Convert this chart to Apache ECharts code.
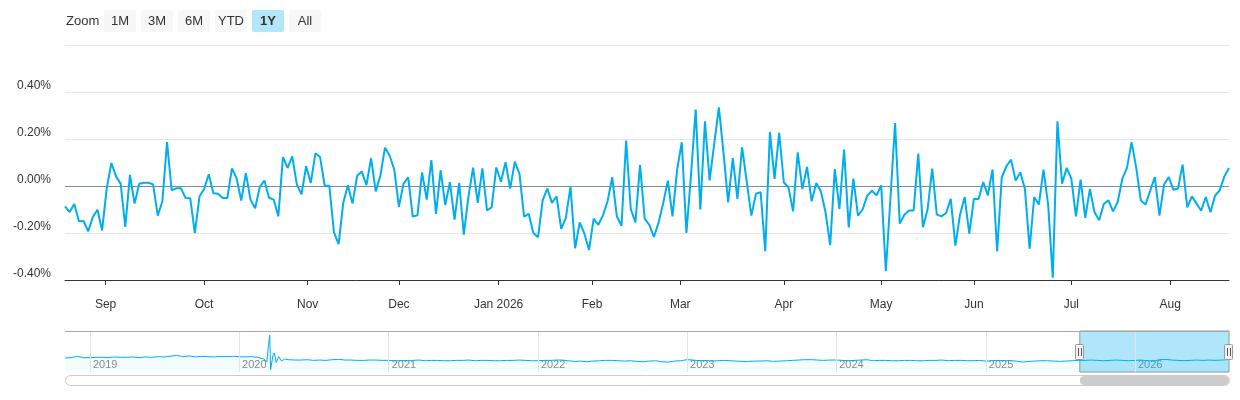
<!DOCTYPE html>
<html>
<head>
<meta charset="utf-8">
<script src="https://cdn.jsdelivr.net/npm/echarts@6/dist/echarts.min.js"></script>
<style>
html, body { margin: 0; padding: 0; background: #fff; }
#main { width: 1240px; height: 400px; }
</style>
</head>
<body>
<div id="main"></div>
<script>
// 1Y window of trading days (weekends and exchange holidays left out)
var startDate = '2025-08-19';
var endDate = '2026-08-19';
var holidays = ['2025-09-01', '2025-11-27', '2025-12-25', '2026-01-01', '2026-01-19',
    '2026-02-16', '2026-04-03', '2026-05-25', '2026-06-19', '2026-07-03'];

// daily change, in %
var changePct = [
    -0.087, -0.111, -0.077, -0.150, -0.149, -0.193, -0.132, -0.101, -0.189, -0.010,
    0.098, 0.041, 0.010, -0.174, 0.047, -0.075, 0.010, 0.014, 0.014, 0.007,
    -0.126, -0.065, 0.187, -0.018, -0.010, -0.010, -0.051, -0.052, -0.200, -0.045,
    -0.013, 0.050, -0.031, -0.033, -0.051, -0.051, 0.075, 0.033, -0.062, 0.055,
    -0.058, -0.095, -0.004, 0.023, -0.050, -0.058, -0.129, 0.123, 0.077, 0.126,
    0.006, -0.035, 0.084, 0.013, 0.139, 0.123, 0.001, 0.001, -0.197, -0.247,
    -0.072, 0.003, -0.075, 0.044, 0.062, 0.004, 0.118, -0.023, 0.044, 0.163,
    0.130, 0.070, -0.089, 0.010, 0.037, -0.130, -0.125, 0.058, -0.058, 0.110,
    -0.119, 0.067, -0.081, 0.016, -0.143, 0.013, -0.207, -0.044, 0.078, -0.072,
    0.075, -0.104, -0.091, 0.079, 0.018, 0.101, -0.011, 0.104, 0.052, -0.130,
    -0.119, -0.200, -0.218, -0.061, -0.011, -0.072, -0.044, -0.182, -0.136, -0.004,
    -0.265, -0.155, -0.203, -0.272, -0.139, -0.165, -0.125, -0.065, 0.037, -0.129,
    -0.169, 0.193, -0.098, -0.155, 0.089, -0.139, -0.165, -0.217, -0.155, -0.072,
    0.023, -0.129, 0.070, 0.186, -0.200, 0.050, 0.325, -0.100, 0.275, 0.024,
    0.180, 0.335, 0.140, -0.070, 0.119, -0.055, 0.165, 0.020, -0.126, -0.033,
    -0.026, -0.278, 0.230, 0.030, 0.226, 0.016, -0.006, -0.108, 0.143, -0.013,
    0.081, -0.065, 0.013, -0.023, -0.112, -0.252, 0.072, -0.098, 0.155, -0.176,
    0.031, -0.126, -0.100, -0.041, -0.020, -0.040, 0.003, -0.363, -0.050, 0.268,
    -0.160, -0.122, -0.104, -0.104, 0.138, -0.176, -0.100, 0.074, -0.122, -0.129,
    -0.115, -0.055, -0.254, -0.122, -0.047, -0.203, -0.054, -0.055, 0.017, -0.040,
    0.070, -0.278, 0.037, 0.084, 0.112, 0.023, 0.058, -0.013, -0.267, -0.047,
    -0.079, 0.070, -0.079, -0.390, 0.275, 0.010, 0.077, 0.031, -0.129, 0.027,
    -0.136, -0.013, -0.112, -0.146, -0.077, -0.061, -0.108, -0.068, 0.031, 0.077,
    0.187, 0.077, -0.062, -0.079, -0.020, 0.038, -0.126, 0.006, 0.038, -0.016,
    -0.011, 0.091, -0.091, -0.044, -0.075, -0.105, -0.047, -0.112, -0.041, -0.018,
    0.041, 0.077
];

var monthNames = ['Jan', 'Feb', 'Mar', 'Apr', 'May', 'Jun', 'Jul', 'Aug', 'Sep', 'Oct', 'Nov', 'Dec'];
var zoomButtons = ['1M', '3M', '6M', 'YTD', '1Y', 'All'];
var selectedButton = '1Y';

// navigator: smoothed history, semi-monthly points (1st and 16th)
var navPreStart = [2018, 10];
var navPre = [
    0.01, 0.02, 0.06, 0.02,
    0.02, 0.03, 0.03, 0.02, 0.04, 0.03, 0.03, 0.04, 0.02, 0.04, 0.03, 0.05,
    0.04, 0.06, 0.09, 0.05, 0.07, 0.04, 0.06, 0.05, 0.04, 0.06, 0.05, 0.06,
    0.05, 0.04, 0.05, 0.03
];
var navSpikeDates = ['2020-03-02', '2020-03-09', '2020-03-12', '2020-03-16', '2020-03-18',
    '2020-03-24', '2020-03-27', '2020-04-01', '2020-04-07', '2020-04-14', '2020-04-21'];
var navSpike = [-0.02, -0.10, 0.30, 0.68, -0.33, 0.10, 0.16, -0.12, 0.05, -0.08, -0.02];
var navPostStart = [2020, 4];
var navPost = [
    -0.04, -0.05, -0.05, -0.04, -0.06, -0.05, -0.06, -0.04, -0.03, -0.05, -0.05, -0.06, -0.06, -0.05, -0.05, -0.06,
    -0.06, -0.07, -0.07, -0.06, -0.06, -0.05, -0.07, -0.06, -0.06, -0.07, -0.07, -0.06,
    -0.06, -0.05, -0.07, -0.06, -0.06, -0.07, -0.07, -0.06, -0.06, -0.05, -0.06, -0.07,
    -0.07, -0.06, -0.06, -0.05, -0.05, -0.07, -0.09, -0.08, -0.10, -0.08, -0.07, -0.06,
    -0.06, -0.07, -0.08, -0.07, -0.09, -0.10, -0.08, -0.07, -0.10, -0.11, -0.08, -0.07,
    -0.04, -0.05, -0.07, -0.06, -0.08, -0.07, -0.06, -0.07, -0.08, -0.09, -0.09, -0.08,
    -0.08, -0.07, -0.09, -0.08, -0.07, -0.06, -0.05, -0.04, -0.04, -0.05, -0.06, -0.05,
    -0.05, -0.06, -0.07, -0.06, -0.05, -0.04, -0.07, -0.06, -0.06, -0.07, -0.07, -0.06,
    -0.06, -0.07, -0.07, -0.06, -0.06, -0.05, -0.07, -0.06, -0.06, -0.07, -0.07, -0.06,
    -0.08, -0.07, -0.06, -0.07, -0.07, -0.08, -0.11, -0.09, -0.08, -0.07, -0.07, -0.08,
    -0.09, -0.08, -0.07, -0.06, -0.06, -0.05, -0.06, -0.07, -0.06, -0.05, -0.06, -0.07,
    -0.06, -0.05, -0.07, -0.08, -0.04, -0.03, -0.05, -0.06, -0.07, -0.06, -0.05, -0.06,
    -0.05, -0.06, -0.05, -0.04
];
var navLast = ['2026-08-19', -0.03];
var navYears = [2019, 2020, 2021, 2022, 2023, 2024, 2025, 2026];

var lineColor = '#00aeef';
var font = 'Liberation Sans, Arial, Helvetica, sans-serif';

function ms(s) {
    var p = s.split('-');
    return Date.UTC(+p[0], +p[1] - 1, +p[2]);
}
function iso(t) {
    return new Date(t).toISOString().slice(0, 10);
}

// trading days
var DAY = 86400000;
var days = [];
for (var t = ms(startDate); t <= ms(endDate); t += DAY) {
    var wd = new Date(t).getUTCDay();
    if (wd === 0 || wd === 6) continue;
    if (holidays.indexOf(iso(t)) >= 0) continue;
    days.push(t);
}

var lineData = changePct.map(function (v, i) { return [i, v]; });

// month ticks placed on the ordinal scale (interpolated between trading days)
var monthTicks = [];
var d0 = new Date(days[0]);
for (var k = 1; k <= 12; k++) {
    var m = Date.UTC(d0.getUTCFullYear(), d0.getUTCMonth() + k, 1);
    for (var i = 0; i < days.length - 1; i++) {
        if (days[i] <= m && m < days[i + 1]) {
            var pos = i + (m - days[i]) / (days[i + 1] - days[i]);
            var dm = new Date(m);
            var lbl = monthNames[dm.getUTCMonth()] + (dm.getUTCMonth() === 0 ? ' ' + dm.getUTCFullYear() : '');
            monthTicks.push({ pos: pos, label: lbl });
            break;
        }
    }
}
var monthPos = monthTicks.map(function (o) { return o.pos; });

// navigator series
function semiMonthly(start, arr) {
    return arr.map(function (v, j) {
        return [Date.UTC(start[0], start[1] + Math.floor(j / 2), j % 2 ? 16 : 1), v];
    });
}
var navData = semiMonthly(navPreStart, navPre)
    .concat(navSpikeDates.map(function (s, j) { return [ms(s), navSpike[j]]; }))
    .concat(semiMonthly(navPostStart, navPost))
    .concat([[ms(navLast[0]), navLast[1]]]);
var navMin = navData[0][0];
var navMax = ms(navLast[0]);
var yearMs = navYears.map(function (y) { return Date.UTC(y, 0, 1); });
var selStart = ms(startDate), selEnd = ms(endDate);

var chart = echarts.init(document.getElementById('main'));

var option = {
    animation: false,
    textStyle: { fontFamily: font },
    grid: [
        { left: 65, right: 11, top: 45, height: 235 },
        { left: 65, right: 11, top: 331, height: 41 }
    ],
    xAxis: [
        {
            type: 'value', gridIndex: 0, min: 0, max: days.length - 1,
            axisLine: { onZero: false, lineStyle: { color: '#333', width: 1 } },
            axisTick: { customValues: monthPos, length: 5, lineStyle: { color: '#333' } },
            axisLabel: {
                customValues: monthPos, margin: 19, color: '#333', fontSize: 12,
                formatter: function (v) {
                    for (var j = 0; j < monthTicks.length; j++) {
                        if (Math.abs(monthTicks[j].pos - v) < 1e-6) return monthTicks[j].label;
                    }
                    return '';
                }
            },
            splitLine: { show: false }
        },
        {
            type: 'value', gridIndex: 1, min: navMin, max: navMax,
            axisLine: { show: false },
            axisTick: { show: false },
            axisLabel: {
                customValues: yearMs, inside: true, margin: 2, color: '#888', fontSize: 11,
                align: 'left', padding: [0, 0, 0, 3],
                formatter: function (v) { return String(new Date(v).getUTCFullYear()); }
            },
            splitLine: { show: false }
        }
    ],
    yAxis: [
        {
            type: 'value', gridIndex: 0, min: -0.4, max: 0.6, interval: 0.2,
            axisLine: { show: false }, axisTick: { show: false },
            axisLabel: {
                margin: 14, color: '#333', fontSize: 12, verticalAlign: 'bottom',
                formatter: function (v) {
                    if (Math.abs(v) < 1e-9) v = 0;
                    if (v > 0.55) return '';
                    return v.toFixed(2) + '%';
                }
            },
            splitLine: { lineStyle: { color: '#e6e6e6', width: 1 } }
        },
        {
            type: 'value', gridIndex: 1, min: -0.4, max: 0.8, show: false,
            splitLine: { show: false }
        }
    ],
    series: [
        {
            type: 'line', xAxisIndex: 1, yAxisIndex: 1, data: navData,
            symbol: 'none', silent: true,
            lineStyle: { color: lineColor, width: 1 },
            areaStyle: { color: 'rgba(0,174,239,0.06)', origin: 'start' },
            markLine: {
                silent: true, symbol: ['none', 'none'], label: { show: false },
                lineStyle: { color: '#e3e3e3', width: 1, type: 'solid' },
                data: yearMs.map(function (v) { return { xAxis: v }; })
            },
            markArea: {
                silent: true,
                itemStyle: { color: 'rgba(0,174,239,0.31)', borderColor: '#8a9aa6', borderWidth: 1 },
                data: [[{ xAxis: selStart }, { xAxis: selEnd }]]
            }
        },
        {
            type: 'line', xAxisIndex: 0, yAxisIndex: 0, data: lineData,
            symbol: 'none', z: 5,
            lineStyle: { color: lineColor, width: 2 },
            markLine: {
                silent: true, symbol: ['none', 'none'], label: { show: false },
                lineStyle: { color: '#7d8d9c', width: 1, type: 'solid' },
                data: [{ yAxis: 0 }]
            }
        }
    ]
};
chart.setOption(option);

// range selector buttons, navigator outline, handles and scrollbar
var g = [];
g.push({
    type: 'text', x: 66, y: 21,
    style: { text: 'Zoom', font: '13px ' + font, fill: '#333', textVerticalAlign: 'middle', verticalAlign: 'middle' }
});
zoomButtons.forEach(function (b, k) {
    var bx = 104 + k * 37;
    var sel = b === selectedButton;
    g.push({ type: 'rect', shape: { x: bx, y: 10, width: 32, height: 22, r: 2 },
        style: { fill: sel ? '#b3e6f9' : '#f7f7f7' } });
    g.push({ type: 'text', x: bx + 16, y: 21, z: 10,
        style: { text: b, font: (sel ? 'bold ' : '') + '13px ' + font, fill: '#333',
            textAlign: 'center', align: 'center', textVerticalAlign: 'middle', verticalAlign: 'middle' } });
});

var nx0 = chart.convertToPixel({ xAxisIndex: 1 }, navMin);
var nx1 = chart.convertToPixel({ xAxisIndex: 1 }, navMax);
var sx0 = chart.convertToPixel({ xAxisIndex: 1 }, selStart);
var sx1 = chart.convertToPixel({ xAxisIndex: 1 }, selEnd);

g.push({ type: 'line', shape: { x1: nx0, y1: 331.5, x2: nx1, y2: 331.5 },
    style: { stroke: '#a8a8a8', lineWidth: 1 }, z: 20 });

[sx0, sx1].forEach(function (hx) {
    g.push({ type: 'rect', shape: { x: Math.round(hx) - 4.5, y: 344.5, width: 8, height: 15, r: 1 },
        style: { fill: '#f2f2f2', stroke: '#999', lineWidth: 1 }, z: 30 });
    g.push({ type: 'line', shape: { x1: Math.round(hx) - 1.5, y1: 348, x2: Math.round(hx) - 1.5, y2: 356 },
        style: { stroke: '#555', lineWidth: 1 }, z: 31 });
    g.push({ type: 'line', shape: { x1: Math.round(hx) + 1.5, y1: 348, x2: Math.round(hx) + 1.5, y2: 356 },
        style: { stroke: '#555', lineWidth: 1 }, z: 31 });
});

g.push({ type: 'rect', shape: { x: nx0 + 0.5, y: 375.5, width: nx1 - nx0, height: 10, r: 5 },
    style: { fill: '#fff', stroke: '#ccc', lineWidth: 1 }, z: 20 });
g.push({ type: 'rect', shape: { x: sx0, y: 376, width: sx1 - sx0, height: 9, r: 4.5 },
    style: { fill: '#cccccc' }, z: 21 });

chart.setOption({ graphic: g });
</script>
</body>
</html>
